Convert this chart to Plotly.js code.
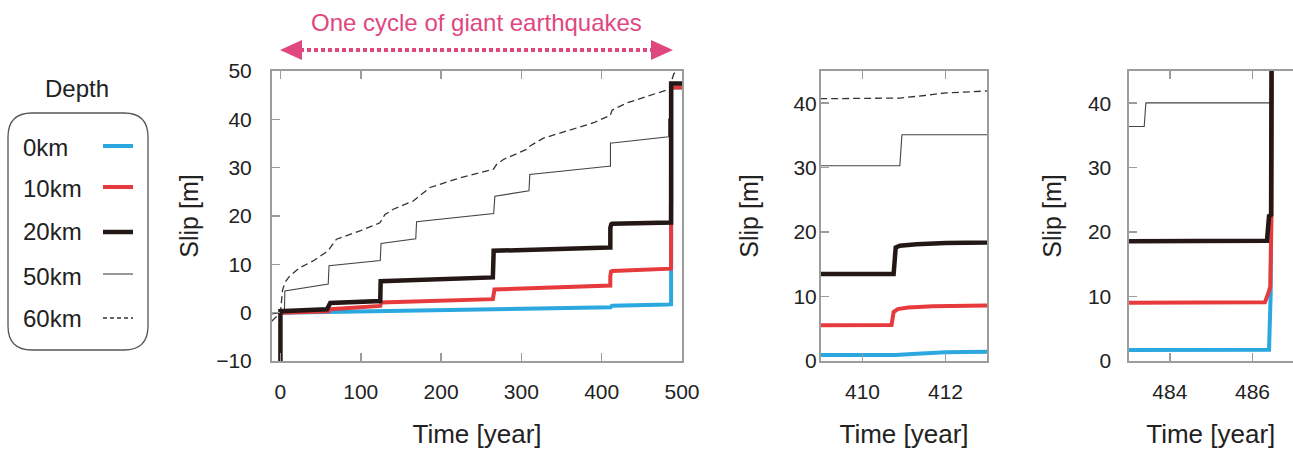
<!DOCTYPE html>
<html><head><meta charset="utf-8">
<script src="https://cdn.plot.ly/plotly-3.0.1.min.js"></script>
<style>html,body{margin:0;padding:0;background:#fff;} #chart{width:1293px;height:451px;}</style>
</head><body><div id="chart"></div>
<script>
// ---------------- data ----------------
const depthLabels = ['0km', '10km', '20km', '50km', '60km'];

// 0 km depth
const time0 = [0, 62, 124, 265, 409, 410.8, 411.2, 412, 413, 483, 486.4, 486.44, 486.47, 500];
const slip0 = [0, 0.15, 0.35, 0.7, 0.93, 0.95, 1.1, 1.35, 1.45, 1.7, 1.75, 10.5, 46.6, 46.6];

// 10 km depth
const time10 = [0, 60, 62, 124.3, 125.3, 264.5, 266.5, 408, 410.7, 410.75, 410.85, 411.1, 411.7, 413, 483, 486.3, 486.38, 486.43, 486.46, 486.47, 500];
const slip10 = [0, 0.3, 0.7, 1.4, 2.1, 2.8, 4.8, 5.5, 5.6, 7.6, 8.05, 8.3, 8.5, 8.6, 9.05, 9.1, 10.5, 11.5, 22.5, 46.6, 46.6];

// 20 km depth
const time20 = [0, 0, 58, 60, 62, 124.3, 124.8, 264.5, 265.5, 409, 410.75, 410.8, 410.9, 411.3, 412, 413, 483, 486.35, 486.4, 486.45, 486.46, 500];
const slip20 = [-11, 0.3, 0.7, 1.6, 2.0, 2.4, 6.5, 7.3, 12.8, 13.5, 13.5, 17.6, 17.9, 18.1, 18.3, 18.4, 18.6, 18.65, 22.5, 22.7, 47.4, 47.4];

// 50 km depth
const time50 = [-11, 0, 5, 5.5, 59.5, 60.5, 124.3, 125.3, 168.5, 169.5, 265.5, 267, 309.5, 310.5, 409, 410.9, 410.95, 413, 483.38, 483.42, 486.43, 486.47, 500];
const slip50 = [-0.3, 0, 0.3, 4.5, 5.9, 9.7, 10.8, 14.3, 15.3, 18.8, 20.5, 24.1, 25.2, 28.6, 30.3, 30.3, 35.1, 35.1, 36.4, 40.05, 40.05, 47.4, 47.4];

// 60 km depth
const time60 = [-11, -5, 0, 2.5, 5.4, 11.6, 24.1, 40.7, 59.4, 63.6, 69.8, 98.9, 123.9, 130.1, 140.5, 165.4, 175.8, 186.2, 223.6, 265.2, 269.3, 277.6, 306.7, 310.9, 327.5, 348.3, 389.9, 409, 410.9, 411.5, 412, 413, 431.4, 452.2, 483.4, 486.5, 488, 490, 493, 497];
const slip60 = [-1.8, -0.8, 0, 4.5, 6.2, 7.6, 9.3, 10.7, 12.8, 13.8, 15.2, 16.9, 18.6, 20.3, 21.4, 23.1, 24.6, 25.9, 27.9, 29.7, 30.7, 31.7, 33.8, 34.5, 36.1, 37.2, 39.3, 40.7, 40.8, 41.2, 41.6, 41.9, 43.4, 44.5, 46.2, 46.5, 48.5, 49.5, 49.8, 50.5];

const mainTicks = [0, 100, 200, 300, 400, 500];
const zoom1Ticks = [410, 412];
const zoom2Ticks = [484, 486];
const slipTicksMain = [-10, 0, 10, 20, 30, 40, 50];
const slipTicksZoom = [0, 10, 20, 30, 40];

// ---------------- styles ----------------
const W = 1293, H = 451;
const FONT = '"Liberation Sans", Arial, sans-serif';
const series = [
  {t: time60, s: slip60, color: '#333333', width: 1.3, dash: '7px,4px', li: 4},
  {t: time50, s: slip50, color: '#444444', width: 1.1, dash: 'solid', li: 3},
  {t: time0,  s: slip0,  color: '#2aa8df', width: 4,   dash: 'solid', li: 0},
  {t: time10, s: slip10, color: '#e63a3d', width: 4,   dash: 'solid', li: 1},
  {t: time20, s: slip20, color: '#231815', width: 4.5, dash: 'solid', li: 2}
];
const px = x => x / W;
const py = y => 1 - y / H;

const panels = [
  {xa: 'x', ya: 'y'},
  {xa: 'x2', ya: 'y2'},
  {xa: 'x3', ya: 'y3'}
];

const traces = [];
panels.forEach(p => {
  series.forEach(sr => {
    traces.push({
      type: 'scatter', mode: 'lines', x: sr.t, y: sr.s,
      xaxis: p.xa, yaxis: p.ya, showlegend: false, hoverinfo: 'skip',
      line: {color: sr.color, width: sr.width, dash: sr.dash}
    });
  });
});

const yDom = [py(361), py(71)];
const frame = '#9c9c9c';
function xAx(dom, range, ticks) {
  return {
    domain: dom, range: range, tickvals: ticks, ticks: 'inside', ticklen: 8, tickwidth: 1.5,
    tickcolor: frame, showline: true, linecolor: frame, linewidth: 2, mirror: 'ticks',
    showgrid: false, zeroline: false, ticklabelstandoff: 11,
    tickfont: {family: FONT, size: 21, color: '#222'},
    title: {text: 'Time [year]', font: {family: FONT, size: 26, color: '#222'}, standoff: 23}
  };
}
function yAx(range, ticks, anchor, mirror, tls, st) {
  return {
    domain: yDom, range: range, tickvals: ticks, ticks: 'inside', ticklen: 8, tickwidth: 1.5,
    tickcolor: frame, showline: true, linecolor: frame, linewidth: 2, mirror: mirror,
    showgrid: false, zeroline: false, anchor: anchor, ticklabelstandoff: tls,
    tickfont: {family: FONT, size: 21, color: '#222'},
    title: {text: 'Slip [m]', font: {family: FONT, size: 25, color: '#222'}, standoff: st}
  };
}

const layout = {
  width: W, height: H, margin: {l: 0, r: 0, t: 0, b: 0},
  paper_bgcolor: '#fff', plot_bgcolor: '#fff', showlegend: false,
  xaxis: Object.assign(xAx([px(272), px(682)], [-10.5, 500], mainTicks), {anchor: 'y'}),
  yaxis: yAx([-10, 50], slipTicksMain, 'x', true, 14, 10),
  xaxis2: Object.assign(xAx([px(821), px(987)], [409, 413], zoom1Ticks), {anchor: 'y2'}),
  yaxis2: yAx([0, 45], slipTicksZoom, 'x2', true, -2, 28),
  xaxis3: Object.assign(xAx([px(1128.5), 1], [483, 486.98], zoom2Ticks), {anchor: 'y3'}),
  yaxis3: yAx([0, 45], slipTicksZoom, 'x3', false, 11, 19),
  shapes: [],
  annotations: []
};

const pink = '#e0477f';
// cycle arrow
layout.shapes.push({type: 'line', xref: 'paper', yref: 'paper', x0: px(300), x1: px(653), y0: py(50), y1: py(50),
  line: {color: pink, width: 4, dash: '4px,3px'}});
layout.shapes.push({type: 'path', xref: 'paper', yref: 'paper',
  path: `M ${px(280)},${py(50)} L ${px(302)},${py(40)} L ${px(302)},${py(60)} Z`, fillcolor: pink, line: {width: 0}});
layout.shapes.push({type: 'path', xref: 'paper', yref: 'paper',
  path: `M ${px(673)},${py(50)} L ${px(651)},${py(40)} L ${px(651)},${py(60)} Z`, fillcolor: pink, line: {width: 0}});
layout.annotations.push({xref: 'paper', yref: 'paper', x: px(476), y: py(22), text: 'One cycle of giant earthquakes',
  showarrow: false, xanchor: 'center', yanchor: 'middle', font: {family: FONT, size: 24, color: pink}});

// legend box (rounded)
const L = 8, R = 148, T = 113, B = 350, r = 24;
const P = (x, y) => `${px(x)},${py(y)}`;
layout.shapes.push({type: 'path', xref: 'paper', yref: 'paper', line: {color: '#555', width: 1.3}, fillcolor: 'rgba(0,0,0,0)',
  path: `M ${P(L + r, T)} L ${P(R - r, T)} Q ${P(R, T)} ${P(R, T + r)} L ${P(R, B - r)} Q ${P(R, B)} ${P(R - r, B)} L ${P(L + r, B)} Q ${P(L, B)} ${P(L, B - r)} L ${P(L, T + r)} Q ${P(L, T)} ${P(L + r, T)} Z`});
layout.annotations.push({xref: 'paper', yref: 'paper', x: px(77), y: py(89), text: 'Depth', showarrow: false,
  xanchor: 'center', yanchor: 'middle', font: {family: FONT, size: 24, color: '#222'}});
const itemTextY = [147, 188, 231, 276, 318];
const itemLineY = [146, 187, 232, 274, 318];
series.forEach(sr => {
  const i = sr.li;
  layout.annotations.push({xref: 'paper', yref: 'paper', x: px(21), y: py(itemTextY[i]), text: depthLabels[i], showarrow: false,
    xanchor: 'left', yanchor: 'middle', font: {family: FONT, size: 24, color: '#222'}});
  layout.shapes.push({type: 'line', xref: 'paper', yref: 'paper', x0: px(103), x1: px(133), y0: py(itemLineY[i]), y1: py(itemLineY[i]),
    line: {color: sr.color, width: sr.width, dash: sr.dash === 'solid' ? 'solid' : '4px,3px'}});
});

Plotly.newPlot('chart', traces, layout, {staticPlot: true});
</script>
</body></html>
